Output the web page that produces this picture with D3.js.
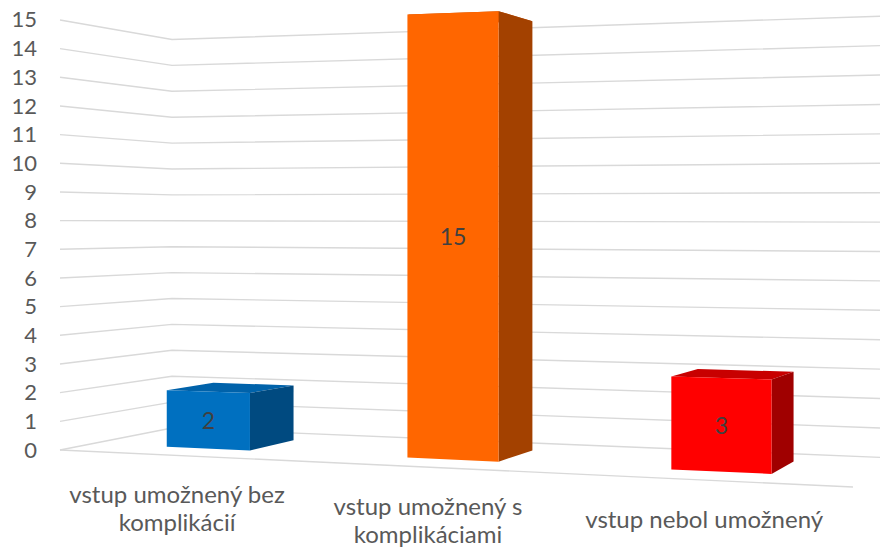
<!DOCTYPE html>
<html>
<head>
<script src="https://d3js.org/d3.v7.min.js"></script>
<style>
  body { margin: 0; background: #fff; }
  text { font-family: Lato, "Open Sans", sans-serif; }
</style>
</head>
<body>
<svg id="chart" width="880" height="551"></svg>
<script>
// data
const categories = [
  ["vstup umožnený bez", "komplikácií"],
  ["vstup umožnený s", "komplikáciami"],
  ["vstup nebol umožnený"]
];
const values = [2, 15, 3];
const tickValues = [0, 1, 2, 3, 4, 5, 6, 7, 8, 9, 10, 11, 12, 13, 14, 15];
const frontColors = ["#0070c0", "#ff6600", "#ff0000"];
const sideColors = ["#004a80", "#a34100", "#a00000"];
const topColors = ["#0062aa", "#c85000", "#c80000"];

const svg = d3.select("#chart");

// floor of the 3d box on screen: front-left, front-right, back-right, back-left
const floorQuad = [[60, 450], [853, 487], [893.3, 457.9], [172, 428]];
const unitPx = 28.67;

// unit square -> quad (perspective)
function squareToQuad(q) {
  const [x0, y0] = q[0], [x1, y1] = q[1], [x2, y2] = q[2], [x3, y3] = q[3];
  const dx1 = x1 - x2, dx2 = x3 - x2, dx3 = x0 - x1 + x2 - x3;
  const dy1 = y1 - y2, dy2 = y3 - y2, dy3 = y0 - y1 + y2 - y3;
  const den = dx1 * dy2 - dx2 * dy1;
  const g = (dx3 * dy2 - dx2 * dy3) / den;
  const h = (dx1 * dy3 - dx3 * dy1) / den;
  return {
    a: x1 - x0 + g * x1, b: x3 - x0 + h * x3, c: x0,
    d: y1 - y0 + g * y1, e: y3 - y0 + h * y3, f: y0,
    g: g, h: h
  };
}
const H = squareToQuad(floorQuad);

const heightScale = d3.scaleLinear().domain([0, 15]).range([0, 15 * unitPx]);
const xBand = d3.scaleBand().domain(d3.range(values.length)).range([0, 1])
  .paddingInner(0.644).paddingOuter(0.322);
const depth0 = 0.28, depth1 = 0.72;

// u: across, dd: depth (0 front, 1 back), v: value
function project(u, dd, v) {
  const w = H.g * u + H.h * dd + 1;
  return [(H.a * u + H.b * dd + H.c) / w, (H.d * u + H.e * dd + H.f - heightScale(v)) / w];
}
const line = d3.line();

// gridlines: left wall + back wall
const grid = svg.append("g");
tickValues.forEach(v => {
  grid.append("path")
    .attr("d", line([project(0, 0, v), project(0, 1, v), project(1, 1, v)]))
    .attr("fill", "none")
    .attr("stroke", "#d9d9d9")
    .attr("stroke-width", 1.4);
});
// floor front edge
grid.append("path")
  .attr("d", line([project(0, 0, 0), project(1, 0, 0)]))
  .attr("fill", "none")
  .attr("stroke", "#d9d9d9")
  .attr("stroke-width", 1.4);

// left axis labels
const yAxisScale = d3.scaleLinear().domain([0, 15]).range([450, 450 - 15 * unitPx]);
const yAxis = svg.append("g")
  .attr("transform", "translate(40,0)")
  .call(d3.axisLeft(yAxisScale).tickValues(tickValues).tickSize(0).tickPadding(3));
yAxis.select(".domain").remove();
yAxis.selectAll("text")
  .style("font-family", "Lato, 'Open Sans', sans-serif")
  .style("font-size", "22px")
  .attr("fill", "#595959");

// bars
const bars = svg.append("g");
values.forEach((val, i) => {
  const u0 = xBand(i), u1 = u0 + xBand.bandwidth();
  const flb = project(u0, depth0, 0), frb = project(u1, depth0, 0), brb = project(u1, depth1, 0);
  const flt = project(u0, depth0, val), frt = project(u1, depth0, val);
  const brt = project(u1, depth1, val), blt = project(u0, depth1, val);
  bars.append("path").attr("d", line([flt, frt, brt, blt]) + "Z").attr("fill", topColors[i]);
  bars.append("path").attr("d", line([frb, brb, brt, frt]) + "Z").attr("fill", sideColors[i]);
  bars.append("path").attr("d", line([flb, frb, frt, flt]) + "Z").attr("fill", frontColors[i]);
  const cx = (flb[0] + frb[0] + frt[0] + flt[0]) / 4;
  const cy = (flb[1] + frb[1] + frt[1] + flt[1]) / 4;
  bars.append("text")
    .attr("x", cx)
    .attr("y", cy)
    .attr("text-anchor", "middle")
    .attr("dominant-baseline", "central")
    .style("font-size", "23px")
    .attr("fill", "#404040")
    .text(val);
});

// category labels
categories.forEach((lines, i) => {
  const p = project(xBand(i) + xBand.bandwidth() / 2, 0, 0);
  const t = svg.append("text")
    .attr("text-anchor", "middle")
    .style("font-size", "24px")
    .attr("fill", "#595959");
  lines.forEach((s, j) => {
    t.append("tspan").attr("x", p[0]).attr("y", p[1] + 48 + j * 28).text(s);
  });
});
</script>
</body>
</html>
